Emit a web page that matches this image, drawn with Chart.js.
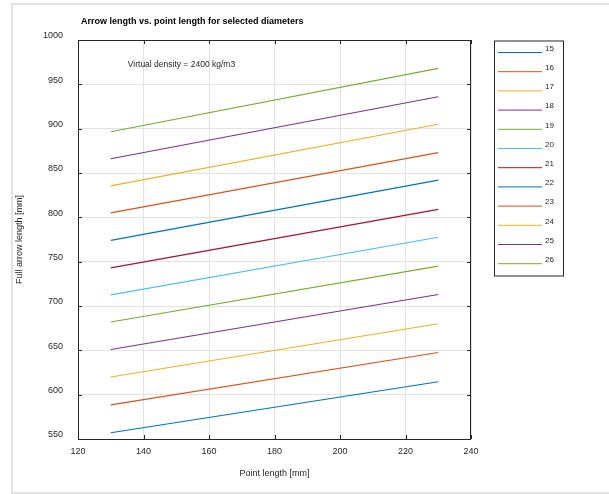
<!DOCTYPE html>
<html>
<head>
<meta charset="utf-8">
<script src="https://cdn.jsdelivr.net/npm/chart.js@4/dist/chart.umd.min.js"></script>
<style>
html, body { margin: 0; padding: 0; background: #fff; }
#wrap { position: relative; width: 609px; height: 494px; overflow: hidden; }
#frame { position: absolute; left: 11px; top: 3px; width: 640px; height: 487px; border: 2px solid #e2e2e2; }
#chart { position: absolute; left: 0; top: 0; }
</style>
</head>
<body>
<div id="wrap">
  <div id="frame"></div>
  <canvas id="chart" width="609" height="494"></canvas>
</div>
<script>
// diameters shown in the legend
const diameters = ['15', '16', '17', '18', '19', '20', '21', '22', '23', '24', '25', '26'];
// point length [mm] at the two ends of every line
const pointLengths = [130, 230];
// full arrow length [mm] read at point length 130 and 230
const arrowAtStart = [557, 588.5, 620, 651, 682, 712.5, 743, 774, 805, 835.5, 866, 896.5];
const arrowAtEnd = [614.5, 647.5, 680, 713, 745, 777.5, 809, 842, 873, 905, 936, 968];
const xTicks = [120, 140, 160, 180, 200, 220, 240];
const yTicks = [550, 600, 650, 700, 750, 800, 850, 900, 950, 1000];

const palette = ['#0072BD', '#D95319', '#EDB120', '#7E2F8E', '#77AC30', '#4DBEEE', '#A2142F'];
const FONT = '"Liberation Sans", Arial, Helvetica, sans-serif';
const axisColor = '#262626';

const datasets = diameters.map((d, i) => ({
    label: d,
    data: pointLengths.map((x, k) => ({ x: x, y: k === 0 ? arrowAtStart[i] : arrowAtEnd[i] })),
    borderColor: palette[i % palette.length],
    backgroundColor: palette[i % palette.length],
    borderWidth: 1.1,
    pointRadius: 0,
    tension: 0,
    fill: false
}));

// box, inward ticks, title, annotation and legend like the original figure
const figurePlugin = {
    id: 'figure',
    afterDraw(chart) {
        const ctx = chart.ctx;
        const a = chart.chartArea;
        const xs = chart.scales.x, ys = chart.scales.y;
        ctx.save();
        ctx.strokeStyle = axisColor;
        ctx.lineWidth = 1;
        ctx.strokeRect(a.left + 0.5, a.top + 0.5, a.right - a.left - 1, a.bottom - a.top);
        ctx.beginPath();
        xTicks.forEach(v => {
            const px = Math.round(xs.getPixelForValue(v)) + 0.5;
            ctx.moveTo(px, a.bottom); ctx.lineTo(px, a.bottom - 4);
            ctx.moveTo(px, a.top); ctx.lineTo(px, a.top + 4);
        });
        yTicks.forEach(v => {
            const py = Math.round(ys.getPixelForValue(v)) + 0.5;
            ctx.moveTo(a.left, py); ctx.lineTo(a.left + 4, py);
            ctx.moveTo(a.right, py); ctx.lineTo(a.right - 4, py);
        });
        ctx.stroke();

        // title
        ctx.fillStyle = '#000';
        ctx.font = 'bold 9px ' + FONT;
        ctx.textBaseline = 'middle';
        ctx.textAlign = 'left';
        ctx.fillText('Arrow length vs. point length for selected diameters', 81, 22);

        // annotation
        ctx.fillStyle = axisColor;
        ctx.font = '8.5px ' + FONT;
        ctx.fillText('Virtual density = 2400 kg/m3', xs.getPixelForValue(135.2), ys.getPixelForValue(972));

        // legend
        const lx = 494, ly = 40.5, lw = 69, lh = 235;
        ctx.fillStyle = '#fff';
        ctx.fillRect(lx, ly, lw, lh);
        ctx.strokeStyle = axisColor;
        ctx.strokeRect(lx + 0.5, ly + 0.5, lw, lh);
        ctx.font = '8px ' + FONT;
        chart.data.datasets.forEach((ds, i) => {
            const y = 52.5 + i * 19.2;
            ctx.strokeStyle = ds.borderColor;
            ctx.beginPath();
            ctx.moveTo(498, y); ctx.lineTo(542, y);
            ctx.stroke();
            ctx.fillStyle = axisColor;
            ctx.fillText(ds.label, 545, y - 4);
        });
        ctx.restore();
    }
};

const chart = new Chart(document.getElementById('chart').getContext('2d'), {
    type: 'line',
    data: { datasets: datasets },
    options: {
        responsive: false,
        animation: false,
        layout: { padding: { top: 40, right: 138, left: 0, bottom: 0 } },
        plugins: {
            legend: { display: false },
            tooltip: { enabled: false }
        },
        scales: {
            x: {
                type: 'linear',
                min: 120,
                max: 240,
                afterFit: s => { s.height = 55; },
                afterBuildTicks: s => { s.ticks = xTicks.map(v => ({ value: v })); },
                ticks: {
                    color: axisColor, font: { family: FONT, size: 9 }, padding: 7, maxRotation: 0,
                    callback: v => String(v)
                },
                grid: { color: '#e3e3e3', drawTicks: false },
                border: { display: false },
                title: {
                    display: true,
                    text: 'Point length [mm]',
                    color: axisColor,
                    font: { family: FONT, size: 9 },
                    padding: { top: 0, bottom: 15 }
                }
            },
            y: {
                type: 'linear',
                min: 550,
                max: 1000,
                afterFit: s => { s.width = 78; },
                afterBuildTicks: s => { s.ticks = yTicks.map(v => ({ value: v })); },
                ticks: {
                    color: axisColor, font: { family: FONT, size: 9 }, padding: 15, labelOffset: -4,
                    callback: v => String(v)
                },
                grid: { color: '#e3e3e3', drawTicks: false },
                border: { display: false },
                title: {
                    display: true,
                    text: 'Full arrow length [mm]',
                    color: axisColor,
                    font: { family: FONT, size: 9 },
                    padding: { top: 14, bottom: 0 }
                }
            }
        }
    },
    plugins: [figurePlugin]
});
</script>
</body>
</html>
